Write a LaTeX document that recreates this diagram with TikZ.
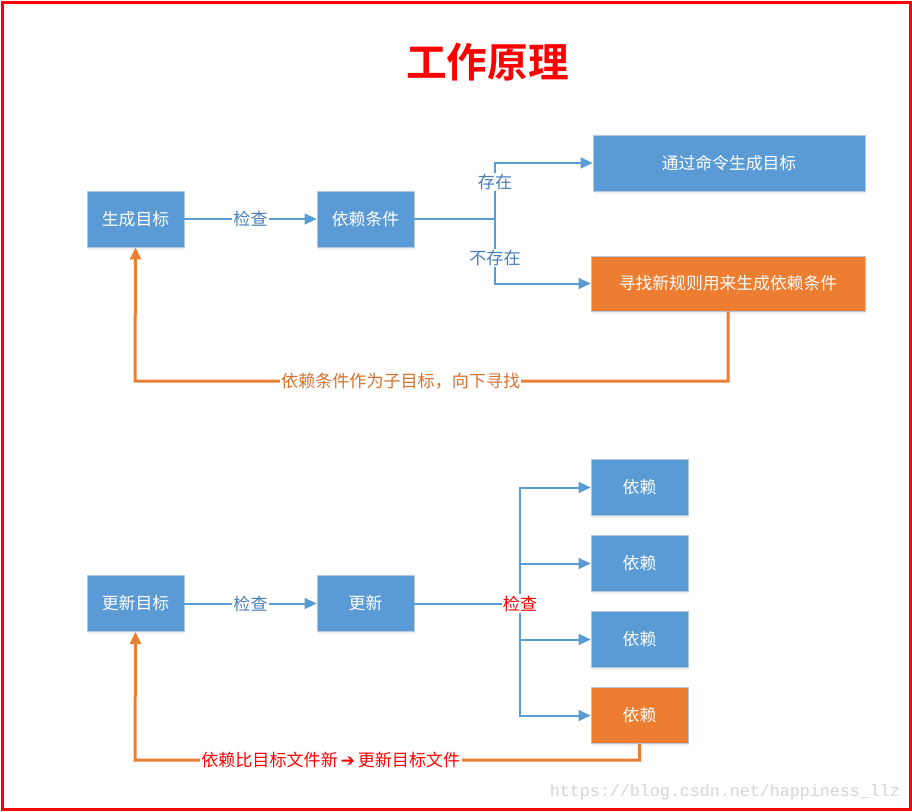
\documentclass[tikz,border=0pt]{standalone}
\usepackage{fontspec}
\setmainfont{Noto Sans CJK SC}
\newfontfamily\titlefont{Noto Sans CJK SC Bold}
\newfontfamily\symfont{DejaVu Sans}
\newfontfamily\urlfont{Liberation Mono}
\usetikzlibrary{arrows.meta, shadows}
\definecolor{boxblue}{HTML}{5B9BD5}
\definecolor{boxorange}{HTML}{ED7D31}
\definecolor{boxline}{HTML}{B4C7DC}
\definecolor{lblblue}{HTML}{4A7EBB}
\definecolor{lblorange}{HTML}{D8712E}
\definecolor{urlgray}{HTML}{D4D4D4}

\begin{document}
\begin{tikzpicture}[x=0.75pt,y=-0.75pt,
	box/.style={draw=boxline,fill=boxblue,text=white,minimum width=72.75pt,minimum height=42pt,inner sep=0pt,font=\fontsize{12.6}{14}\selectfont,drop shadow={opacity=0.12,shadow xshift=1pt,shadow yshift=-2pt}},
	hot/.style={box,fill=boxorange},
	flow/.style={draw=boxblue,line width=1.5pt,-{Triangle[length=9pt,width=8pt]}},
	line/.style={draw=boxblue,line width=1.5pt},
	back/.style={draw=boxorange,line width=2.25pt,-{Triangle[length=9pt,width=8pt]}},
	lbl/.style={fill=white,inner sep=1pt,text=lblblue,font=\fontsize{12.8}{14}\selectfont}]
				\useasboundingbox (0,0) rectangle (912,811);
				\draw[red,line width=2.25pt] (2,2) rectangle (910,809);
				\node[text=red,font=\titlefont\fontsize{30.5}{34}\selectfont] (title) at (487.5,62) {工作原理};
				\node[box] (sc) at (135.5,219) {生成目标};
				\node[box] (yl) at (365.5,219) {依赖条件};
				\node[box,minimum width=204pt] (ml) at (729,163) {通过命令生成目标};
				\node[hot,minimum width=205.5pt,minimum height=41.25pt] (xz) at (728,283.5) {寻找新规则用来生成依赖条件};
				\coordinate (b1) at (495,219);
				\coordinate (fb1) at (135,381);
				\draw[flow] (sc.east) -- node[lbl]{检查} (yl.west);
				\draw[line] (yl.east) -- (b1);
				\draw[flow] (b1) |- node[lbl,pos=0.33]{存在} (ml.west);
				\draw[flow] (b1) |- node[lbl,pos=0.3]{不存在} (xz.west);
				\draw[back] (xz.south) |- node[lbl,text=lblorange,pos=0.776]{依赖条件作为子目标，向下寻找} (fb1) -- (sc.south);
				\node[box] (gm) at (135.5,603.5) {更新目标};
				\node[box] (gx) at (365.5,603.5) {更新};
				\node[box] (y1) at (639.5,487.5) {依赖};
				\node[box] (y2) at (639.5,563.5) {依赖};
				\node[box] (y3) at (639.5,639.5) {依赖};
				\node[hot] (y4) at (639.5,715.5) {依赖};
				\coordinate (b2) at (520,603.5);
				\coordinate (fb2) at (135,760);
				\draw[flow] (gm.east) -- node[lbl]{检查} (gx.west);
				\draw[flow] (b2) |- (y1.west);
				\draw[flow] (b2) |- (y2.west);
				\draw[flow] (b2) |- (y3.west);
				\draw[flow] (b2) |- (y4.west);
				\draw[line] (gx.east) -- node[lbl,text=red,pos=1]{检查} (b2);
				\draw[back] (y4.south) |- node[lbl,text=red,pos=0.806]{依赖比目标文件新\,{\symfont\bfseries ➔}\,更新目标文件} (fb2) -- (gm.south);
				\node[text=urlgray,font=\urlfont\fontsize{12.5}{14}\selectfont] (url) at (725,792) {https://blog.csdn.net/happiness\_llz};
			\end{tikzpicture}
\end{document}
